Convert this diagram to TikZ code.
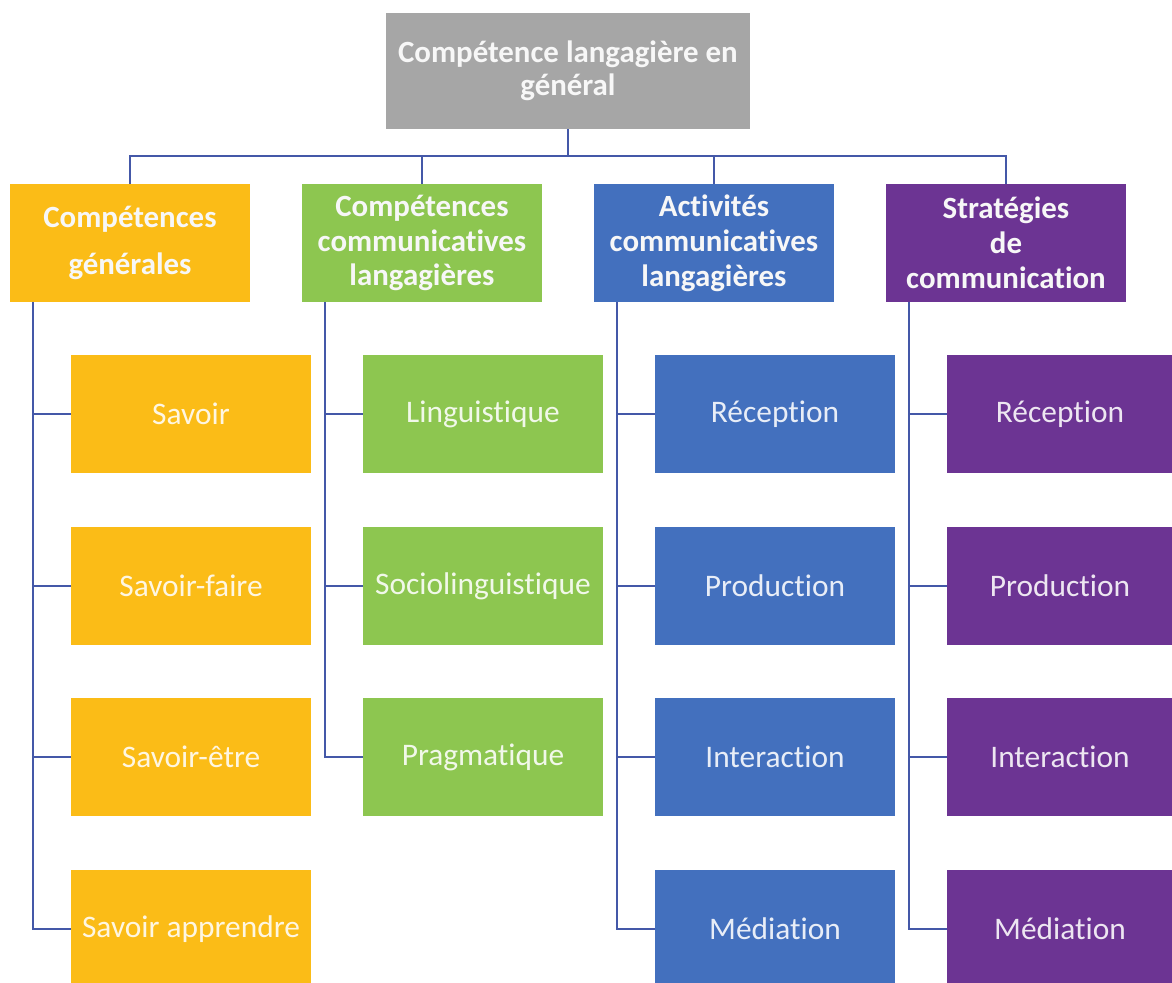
\documentclass[tikz,border=0pt]{standalone}
\usepackage{fontspec}
\setmainfont{Carlito}[RawFeature=-liga]
\usepackage{xcolor}
\definecolor{boxColorTop}{HTML}{A6A6A6}
\definecolor{boxColorA}{HTML}{FBBC17}
\definecolor{boxColorB}{HTML}{8DC650}
\definecolor{boxColorC}{HTML}{4370BE}
\definecolor{boxColorD}{HTML}{6C3493}
\definecolor{linkColor}{HTML}{4458A8}
\definecolor{headTextColor}{HTML}{F7F7F7}
\def\textTop{Compétence langagière en\\général}
\def\textA{Compétences\\[12bp]générales}
\def\textB{Compétences\\communicatives\\langagières}
\def\textC{Activités\\communicatives\\langagières}
\def\textD{Stratégies\\de\\communication}
\tikzset{
  headbox/.style={rectangle, inner sep=0pt, minimum width=240bp, minimum height=118bp,
    align=center, text=headTextColor, font=\fontsize{31}{35}\selectfont\bfseries},
  leafbox/.style={rectangle, inner sep=0pt, minimum width=240bp, minimum height=118bp,
    text=white, text opacity=0.88, font=\fontsize{31.5}{36}\selectfont},
  link/.style={color=linkColor, line width=2.5bp}
}

\begin{document}
\begin{tikzpicture}[x=1bp,y=-1bp]
\useasboundingbox (0, 0) rectangle (1172, 983);

% main layer
\begin{scope}
% top box
\node[headbox, fill=boxColorTop, minimum width=364bp, minimum height=116bp,
  font=\fontsize{31}{33}\selectfont\bfseries] (top) at (568, 71) {\textTop};

% head layer
\node[headbox, fill=boxColorA] (gen) at (130, 243) {\textA};
\node[headbox, fill=boxColorB] (ccl) at (422, 243) {\textB};
\node[headbox, fill=boxColorC] (acl) at (714, 243) {\textC};
\node[headbox, fill=boxColorD] (str) at (1006, 243) {\textD};

% leaf layer
\node[leafbox, fill=boxColorA] (gen1) at (191, 414) {Savoir};
\node[leafbox, fill=boxColorA] (gen2) at (191, 586) {Savoir-faire};
\node[leafbox, fill=boxColorA] (gen3) at (191, 757) {Savoir-être};
\node[leafbox, fill=boxColorA] (gen4) at (191, 929) {Savoir apprendre};

\node[leafbox, fill=boxColorB] (ccl1) at (483, 414) {Linguistique};
\node[leafbox, fill=boxColorB] (ccl2) at (483, 586) {Sociolinguistique};
\node[leafbox, fill=boxColorB] (ccl3) at (483, 757) {Pragmatique};

\node[leafbox, fill=boxColorC] (acl1) at (775, 414) {Réception};
\node[leafbox, fill=boxColorC] (acl2) at (775, 586) {Production};
\node[leafbox, fill=boxColorC] (acl3) at (775, 757) {Interaction};
\node[leafbox, fill=boxColorC] (acl4) at (775, 929) {Médiation};

% purple leaves run into the right margin
\node[leafbox, fill=boxColorD, minimum width=226bp] (str1) at (1060, 414) {Réception};
\node[leafbox, fill=boxColorD, minimum width=226bp] (str2) at (1060, 586) {Production};
\node[leafbox, fill=boxColorD, minimum width=226bp] (str3) at (1060, 757) {Interaction};
\node[leafbox, fill=boxColorD, minimum width=226bp] (str4) at (1060, 929) {Médiation};
\end{scope}

% link layer
\begin{scope}
\coordinate (bus) at (568, 156);
\draw[link] (top.south) -- (bus);
\draw[link] (gen.north) |- (bus) -| (str.north);
\draw[link] (ccl.north) -- (ccl.north |- bus);
\draw[link] (acl.north) -- (acl.north |- bus);

\draw[link] ([xshift=23bp]gen.south west) |- (gen1.west);
\draw[link] ([xshift=23bp]gen.south west) |- (gen2.west);
\draw[link] ([xshift=23bp]gen.south west) |- (gen3.west);
\draw[link] ([xshift=23bp]gen.south west) |- (gen4.west);

\draw[link] ([xshift=23bp]ccl.south west) |- (ccl1.west);
\draw[link] ([xshift=23bp]ccl.south west) |- (ccl2.west);
\draw[link] ([xshift=23bp]ccl.south west) |- (ccl3.west);

\draw[link] ([xshift=23bp]acl.south west) |- (acl1.west);
\draw[link] ([xshift=23bp]acl.south west) |- (acl2.west);
\draw[link] ([xshift=23bp]acl.south west) |- (acl3.west);
\draw[link] ([xshift=23bp]acl.south west) |- (acl4.west);

\draw[link] ([xshift=23bp]str.south west) |- (str1.west);
\draw[link] ([xshift=23bp]str.south west) |- (str2.west);
\draw[link] ([xshift=23bp]str.south west) |- (str3.west);
\draw[link] ([xshift=23bp]str.south west) |- (str4.west);
\end{scope}

\end{tikzpicture}
\end{document}
